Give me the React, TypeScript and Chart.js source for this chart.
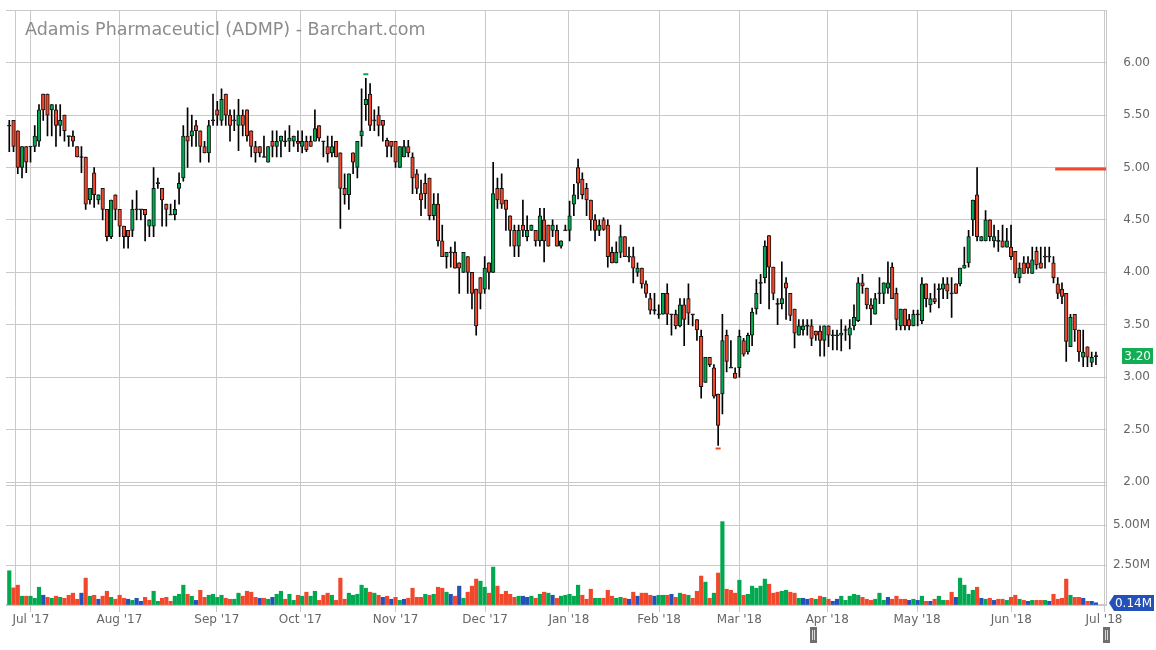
import React, { useEffect, useRef } from 'react';
import { Chart, registerables } from 'chart.js';

Chart.register(...registerables);

const title = 'Adamis Pharmaceuticl (ADMP) - Barchart.com';

const opens = [
  5.40,5.45,5.35,5.00,5.20,5.20,5.20,5.25,5.70,5.70,
  5.55,5.55,5.40,5.50,5.30,5.30,5.20,5.10,5.10,4.69,
  4.95,4.69,4.80,4.60,4.34,4.74,4.60,4.44,4.40,4.40,
  4.60,4.60,4.60,4.44,4.44,4.85,4.80,4.65,4.55,4.55,
  4.80,4.90,5.30,5.30,5.40,5.35,5.20,5.14,5.45,5.55,
  5.45,5.70,5.50,5.45,5.40,5.50,5.55,5.35,5.20,5.20,
  5.10,5.05,5.25,5.20,5.25,5.25,5.25,5.25,5.25,5.20,
  5.25,5.25,5.25,5.40,5.25,5.20,5.14,5.25,5.14,4.80,
  4.74,5.14,5.00,5.30,5.60,5.70,5.45,5.50,5.45,5.26,
  5.25,5.25,5.00,5.10,5.20,5.10,4.94,4.75,4.85,4.90,
  4.54,4.65,4.30,4.15,4.19,4.19,4.09,4.00,4.15,4.00,
  3.84,3.95,3.84,4.09,4.00,4.80,4.80,4.69,4.54,4.40,
  4.25,4.45,4.34,4.40,4.40,4.30,4.50,4.45,4.40,4.40,
  4.25,4.40,4.40,4.65,5.00,4.89,4.80,4.69,4.50,4.40,
  4.50,4.45,4.19,4.09,4.19,4.34,4.15,4.15,4.00,4.04,
  3.89,3.75,3.64,3.60,3.60,3.80,3.60,3.60,3.49,3.69,
  3.75,3.60,3.55,3.39,2.95,3.19,3.09,2.84,2.84,3.40,
  3.09,3.04,3.09,3.35,3.24,3.40,3.65,3.90,3.95,4.35,
  4.05,3.70,3.70,3.90,3.80,3.65,3.40,3.45,3.49,3.49,
  3.44,3.44,3.35,3.49,3.40,3.40,3.40,3.45,3.40,3.49,
  3.54,3.90,3.85,3.69,3.60,3.80,3.80,3.85,4.05,3.80,
  3.49,3.65,3.55,3.49,3.60,3.54,3.89,3.69,3.75,3.84,
  3.84,3.89,3.80,3.89,3.89,4.04,4.09,4.50,4.74,4.30,
  4.30,4.50,4.30,4.30,4.30,4.24,4.24,4.20,3.95,4.09,
  4.09,3.99,4.20,4.09,4.15,4.15,4.09,3.89,3.84,3.80,
  3.29,3.60,3.45,3.19,3.29,3.14,3.20
];

const highs = [
  5.45,5.45,5.35,5.20,5.20,5.20,5.40,5.60,5.70,5.70,
  5.60,5.60,5.60,5.50,5.30,5.35,5.20,5.20,5.10,4.80,
  5.00,4.74,4.80,4.60,4.69,4.74,4.60,4.44,4.40,4.69,
  4.78,4.60,4.60,4.50,5.00,4.90,4.80,4.65,4.65,4.69,
  4.95,5.40,5.57,5.50,5.45,5.35,5.25,5.45,5.70,5.63,
  5.75,5.70,5.55,5.55,5.65,5.55,5.55,5.35,5.25,5.20,
  5.30,5.20,5.35,5.35,5.30,5.35,5.40,5.30,5.35,5.35,
  5.30,5.30,5.55,5.40,5.25,5.30,5.30,5.25,5.14,4.94,
  4.94,5.14,5.25,5.75,5.85,5.80,5.55,5.58,5.45,5.28,
  5.25,5.25,5.20,5.26,5.26,5.14,4.98,4.88,4.94,4.90,
  4.75,4.75,4.45,4.19,4.24,4.29,4.09,4.19,4.15,4.00,
  3.84,3.95,4.15,4.09,5.05,4.90,4.94,4.69,4.54,4.45,
  4.45,4.69,4.54,4.45,4.40,4.61,4.61,4.45,4.50,4.45,
  4.30,4.45,4.68,4.84,5.08,4.95,4.85,4.69,4.55,4.50,
  4.52,4.50,4.24,4.29,4.45,4.34,4.24,4.24,4.09,4.04,
  3.92,3.80,3.80,3.69,3.80,3.89,3.60,3.64,3.75,3.75,
  3.89,3.60,3.55,3.45,3.19,3.19,3.12,2.84,3.60,3.45,
  3.35,3.09,3.45,3.37,3.42,3.66,3.93,3.98,4.30,4.35,
  4.05,3.75,4.10,3.95,3.80,3.65,3.55,3.55,3.55,3.55,
  3.44,3.49,3.49,3.49,3.45,3.45,3.55,3.49,3.55,3.69,
  3.95,3.98,3.85,3.75,3.80,3.95,3.90,4.10,4.09,3.85,
  3.65,3.65,3.60,3.64,3.64,3.95,3.89,3.80,3.89,3.89,
  3.95,3.95,3.95,3.89,4.04,4.24,4.40,4.69,5.00,4.34,
  4.59,4.50,4.45,4.40,4.45,4.42,4.45,4.20,4.09,4.15,
  4.15,4.24,4.24,4.24,4.24,4.24,4.15,3.95,3.90,3.80,
  3.60,3.60,3.45,3.45,3.29,3.24,3.24
];

const lows = [
  5.15,5.15,4.94,4.90,4.95,5.05,5.15,5.20,5.45,5.30,
  5.30,5.20,5.30,5.25,5.20,5.20,5.10,4.95,4.60,4.65,
  4.62,4.65,4.50,4.30,4.32,4.50,4.34,4.23,4.23,4.34,
  4.50,4.50,4.30,4.34,4.34,4.80,4.44,4.44,4.55,4.50,
  4.65,4.87,5.00,5.20,5.20,5.05,5.14,5.05,5.40,5.40,
  5.40,5.40,5.25,5.35,5.16,5.30,5.25,5.10,5.05,5.10,
  5.10,5.05,5.10,5.10,5.10,5.20,5.15,5.20,5.15,5.14,
  5.15,5.20,5.25,5.25,5.10,5.05,5.10,5.10,4.42,4.65,
  4.60,4.94,4.90,5.20,5.45,5.35,5.35,5.30,5.25,5.10,
  5.10,5.00,5.00,5.10,5.10,4.75,4.75,4.54,4.61,4.50,
  4.50,4.25,4.15,4.04,4.05,4.04,3.80,4.00,3.80,3.65,
  3.40,3.65,3.80,3.84,4.00,4.61,4.61,4.40,4.25,4.15,
  4.15,4.34,4.30,4.40,4.25,4.25,4.10,4.25,4.34,4.25,
  4.23,4.40,4.30,4.54,4.70,4.70,4.54,4.40,4.30,4.35,
  4.40,4.05,4.09,4.09,4.14,4.15,4.10,3.90,3.96,3.85,
  3.76,3.60,3.60,3.56,3.60,3.50,3.40,3.46,3.48,3.30,
  3.50,3.49,3.35,2.80,2.95,3.10,2.80,2.35,2.65,3.05,
  3.09,2.99,3.00,3.20,3.22,3.30,3.60,3.70,3.90,3.65,
  3.74,3.50,3.65,3.55,3.54,3.28,3.40,3.40,3.40,3.30,
  3.35,3.20,3.20,3.29,3.26,3.26,3.25,3.35,3.27,3.45,
  3.53,3.80,3.65,3.50,3.60,3.70,3.70,3.80,3.75,3.45,
  3.45,3.45,3.45,3.49,3.49,3.51,3.67,3.62,3.70,3.66,
  3.75,3.75,3.57,3.80,3.87,4.04,4.05,4.35,4.30,4.30,
  4.30,4.30,4.24,4.20,4.24,4.24,4.12,3.95,3.90,3.99,
  3.99,3.99,4.03,4.04,4.04,4.10,3.90,3.75,3.70,3.15,
  3.29,3.34,3.15,3.10,3.10,3.10,3.12
];

const closes = [
  5.40,5.20,5.00,5.20,5.05,5.20,5.30,5.55,5.55,5.50,
  5.60,5.40,5.45,5.35,5.30,5.25,5.10,5.10,4.65,4.80,
  4.74,4.74,4.60,4.34,4.69,4.60,4.44,4.34,4.34,4.60,
  4.60,4.60,4.55,4.50,4.80,4.85,4.69,4.60,4.55,4.60,
  4.85,5.30,5.25,5.35,5.35,5.20,5.14,5.40,5.45,5.50,
  5.65,5.50,5.40,5.45,5.50,5.40,5.30,5.20,5.14,5.14,
  5.10,5.20,5.20,5.25,5.30,5.25,5.28,5.30,5.23,5.25,
  5.17,5.20,5.37,5.28,5.25,5.13,5.20,5.10,4.80,4.74,
  4.94,5.05,5.25,5.35,5.65,5.40,5.45,5.40,5.40,5.20,
  5.20,5.05,5.20,5.20,5.14,4.90,4.80,4.69,4.75,4.54,
  4.65,4.30,4.15,4.19,4.19,4.04,4.04,4.19,4.00,3.80,
  3.49,3.80,4.04,4.00,4.75,4.69,4.65,4.60,4.40,4.25,
  4.40,4.40,4.40,4.45,4.30,4.54,4.30,4.25,4.45,4.25,
  4.30,4.40,4.54,4.74,4.85,4.74,4.69,4.50,4.40,4.45,
  4.41,4.15,4.09,4.19,4.34,4.15,4.15,4.04,4.04,3.89,
  3.80,3.64,3.64,3.60,3.80,3.60,3.60,3.49,3.69,3.55,
  3.61,3.60,3.45,2.91,3.19,3.12,2.82,2.54,3.35,3.15,
  3.09,2.99,3.39,3.22,3.40,3.62,3.80,3.90,4.25,4.05,
  3.80,3.70,3.75,3.85,3.59,3.42,3.49,3.49,3.49,3.37,
  3.40,3.35,3.49,3.40,3.40,3.40,3.42,3.45,3.47,3.57,
  3.90,3.87,3.69,3.65,3.75,3.80,3.90,3.90,3.75,3.55,
  3.65,3.49,3.49,3.60,3.60,3.89,3.75,3.75,3.72,3.84,
  3.89,3.82,3.80,3.80,4.04,4.07,4.34,4.69,4.34,4.34,
  4.50,4.34,4.34,4.30,4.24,4.30,4.15,3.99,4.04,3.99,
  4.04,4.12,4.07,4.04,4.15,4.15,3.95,3.80,3.77,3.34,
  3.57,3.45,3.24,3.24,3.19,3.19,3.20
];

// volume in millions of shares
const volumes = [
  2.14,1.07,1.24,0.55,0.55,0.55,0.42,1.11,0.61,0.48,
  0.42,0.55,0.48,0.42,0.61,0.74,0.36,0.74,1.68,0.55,
  0.61,0.36,0.55,0.86,0.48,0.36,0.61,0.42,0.36,0.29,
  0.42,0.23,0.48,0.29,0.86,0.23,0.42,0.48,0.23,0.55,
  0.67,1.24,0.67,0.55,0.29,0.92,0.48,0.61,0.67,0.48,
  0.61,0.42,0.36,0.36,0.74,0.55,0.86,0.80,0.48,0.42,
  0.42,0.36,0.48,0.67,0.86,0.36,0.67,0.29,0.61,0.55,
  0.80,0.55,0.86,0.29,0.61,0.74,0.61,0.29,1.68,0.36,
  0.74,0.61,0.67,1.24,1.05,0.80,0.74,0.61,0.48,0.55,
  0.36,0.48,0.29,0.36,0.42,1.05,0.48,0.48,0.67,0.61,
  0.67,1.11,1.05,0.80,0.67,0.55,1.18,0.42,0.80,1.18,
  1.62,1.49,1.11,0.74,2.37,1.18,0.67,0.86,0.67,0.48,
  0.55,0.55,0.48,0.55,0.42,0.67,0.80,0.74,0.61,0.42,
  0.55,0.61,0.67,0.55,1.24,0.61,0.36,0.99,0.42,0.42,
  0.42,0.92,0.55,0.42,0.48,0.42,0.36,0.80,0.55,0.74,
  0.74,0.61,0.55,0.61,0.61,0.61,0.67,0.48,0.74,0.67,
  0.61,0.42,0.86,1.81,1.43,0.42,0.74,2.00,5.21,0.99,
  0.92,0.74,1.55,0.61,0.67,1.18,1.05,1.18,1.62,1.30,
  0.74,0.80,0.86,0.92,0.80,0.74,0.42,0.42,0.36,0.42,
  0.36,0.55,0.48,0.36,0.23,0.36,0.55,0.29,0.55,0.67,
  0.61,0.48,0.36,0.29,0.36,0.74,0.29,0.48,0.36,0.55,
  0.36,0.36,0.29,0.36,0.29,0.55,0.23,0.23,0.36,0.55,
  0.29,0.29,0.80,0.48,1.68,1.24,0.67,0.92,1.11,0.42,
  0.36,0.42,0.29,0.36,0.36,0.29,0.48,0.61,0.36,0.29,
  0.23,0.29,0.29,0.29,0.29,0.23,0.67,0.36,0.42,1.62,
  0.61,0.48,0.48,0.42,0.23,0.23,0.14
];

// u = close above previous close, d = below, n = unchanged
const volumeDirs = [
  'udduduuund', 'ududdddndu', 'dnddudddnu', 'nndduudddu', 'uudundduuu',
  'udduuddddn', 'dunuuduudu', 'duuddduddd', 'uuuuududnd', 'ndunddddud',
  'uddundnudd', 'duududdddd', 'unnududund', 'uuuuuddduu', 'ddduudndnd',
  'ddnuudndud', 'udddududud', 'dduduuuuud', 'dduuddunnd', 'ududnnuuuu',
  'uddduuundd', 'ddnunudndu', 'uddnuuuudn', 'udndduddud', 'nuddundddd',
  'uddndnn'
].join('').split('');

const monthLabels = ["Jul '17", "Aug '17", "Sep '17", "Oct '17", "Nov '17", "Dec '17", "Jan '18", "Feb '18", "Mar '18", "Apr '18", "May '18", "Jun '18", "Jul '18"];
const monthPositions = [5.08, 25.94, 48.9, 68.58, 91.0, 112.09, 131.84, 153.09, 171.98, 192.69, 213.85, 236.04, 257.9];
const panelEdge = 1.41;

const lastPrice = 3.20;
const lastVolume = 0.14;
const targetPrice = 4.985;
const targetFrom = 246.4;
const extremeIdx = [84, 167];
const extremeVals = [5.89, 2.32];

const X_MIN = -0.773;
const X_MAX = 258.37;

const GREEN = '#00a84f';
const RED = '#f1482b';
const BLUE = '#2451b8';
const GRID = '#c9c9c9';
const LABEL = '#666666';
const FONT = "'DejaVu Sans', sans-serif";

const overlay = {
  id: 'overlay',
  afterDraw(chart: any) {
    const { ctx, scales } = chart;
    ctx.save();
    ctx.font = `17.5px ${FONT}`;
    ctx.fillStyle = '#8c8c8c';
    ctx.textAlign = 'left';
    ctx.textBaseline = 'alphabetic';
    ctx.fillText(title, 25, 34.5);

    ctx.font = `12px ${FONT}`;
    const py = Math.round(scales.y.getPixelForValue(lastPrice));
    ctx.fillStyle = '#12ad55';
    ctx.fillRect(1122, py - 8, 31, 16);
    ctx.fillStyle = '#ffffff';
    ctx.textAlign = 'right';
    ctx.textBaseline = 'middle';
    ctx.fillText(lastPrice.toFixed(2), 1151, py + 0.5);

    const vy = Math.round(scales.yVol.getPixelForValue(lastVolume));
    ctx.fillStyle = BLUE;
    ctx.beginPath();
    ctx.moveTo(1109, vy);
    ctx.lineTo(1114, vy - 8);
    ctx.lineTo(1154, vy - 8);
    ctx.lineTo(1154, vy + 8);
    ctx.lineTo(1114, vy + 8);
    ctx.closePath();
    ctx.fill();
    ctx.fillStyle = '#ffffff';
    ctx.fillText(lastVolume.toFixed(2) + 'M', 1152, vy + 0.5);

    for (const cx of [813.5, 1106.5]) {
      ctx.fillStyle = '#6f6f6f';
      ctx.fillRect(cx - 3.5, 627, 7, 16);
      ctx.fillStyle = '#d8d8d8';
      ctx.fillRect(cx - 1.5, 630, 1, 10);
      ctx.fillRect(cx + 0.5, 630, 1, 10);
    }
    ctx.restore();
  },
};

export default function App() {
  const ref = useRef<HTMLCanvasElement>(null);

  useEffect(() => {
    const canvas = ref.current;
    if (!canvas) return;
    const n = closes.length;
    const idx = Array.from({ length: n }, (_, i) => i);

    const bodyData = idx.map((i) => {
      const o = opens[i];
      const c = closes[i];
      const lo = Math.min(o, c);
      const hi = Math.max(o, c);
      if (hi - lo < 0.012) {
        const m = (o + c) / 2;
        return { x: i, y: [m - 0.005, m + 0.005] };
      }
      return { x: i, y: [lo, hi] };
    });
    const bodyColors = idx.map((i) =>
      closes[i] > opens[i] + 0.006 ? GREEN : closes[i] < opens[i] - 0.006 ? RED : '#333333'
    );
    const wickData = idx.map((i) => ({ x: i, y: [lows[i], highs[i]] }));
    const volData = idx.map((i) => ({ x: i, y: volumes[i] }));
    const volColors = idx.map((i) => {
      const d = volumeDirs[i];
      return d === 'u' ? GREEN : d === 'd' ? RED : BLUE;
    });

    const chart = new Chart(canvas, {
      type: 'bar',
      data: {
        datasets: [
          {
            type: 'bar',
            label: 'body',
            data: bodyData as any,
            yAxisID: 'y',
            backgroundColor: bodyColors,
            borderColor: '#111111',
            borderWidth: 1,
            borderSkipped: false,
            grouped: false,
            barThickness: 3.6,
            maxBarThickness: 3.6,
            order: 0,
          },
          {
            type: 'bar',
            label: 'wick',
            data: wickData as any,
            yAxisID: 'y',
            backgroundColor: '#000000',
            borderWidth: 0,
            grouped: false,
            barThickness: 1,
            maxBarThickness: 1,
            order: 1,
          },
          {
            type: 'bar',
            label: 'volume',
            data: volData as any,
            yAxisID: 'yVol',
            backgroundColor: volColors,
            borderWidth: 0,
            grouped: false,
            barThickness: 3.5,
            maxBarThickness: 3.5,
            order: 2,
          },
          {
            type: 'line',
            label: 'target',
            data: [
              { x: targetFrom, y: targetPrice },
              { x: X_MAX, y: targetPrice },
            ],
            yAxisID: 'y',
            borderColor: '#ef4a2c',
            borderWidth: 3,
            pointRadius: 0,
            order: 0,
          } as any,
          {
            type: 'line',
            label: 'extremes',
            data: extremeIdx.map((x, k) => ({ x, y: extremeVals[k] })),
            yAxisID: 'y',
            showLine: false,
            pointStyle: 'line',
            pointRadius: 2.5,
            pointBorderWidth: 2,
            pointBorderColor: [GREEN, RED],
            borderColor: [GREEN, RED],
            order: 0,
          } as any,
        ],
      },
      options: {
        animation: false,
        responsive: false,
        devicePixelRatio: 1,
        layout: { padding: { top: 10, right: 6, bottom: 20, left: 0 } },
        plugins: { legend: { display: false }, tooltip: { enabled: false } },
        scales: {
          x: {
            type: 'linear',
            min: X_MIN,
            max: X_MAX,
            offset: false,
            afterBuildTicks: (s: any) => {
              s.ticks = [panelEdge, ...monthPositions].map((v) => ({ value: v }));
            },
            afterFit: (s: any) => {
              s.height = 25;
            },
            ticks: {
              autoSkip: false,
              maxRotation: 0,
              padding: 1,
              color: LABEL,
              font: { family: FONT, size: 12 },
              callback: (_v: any, i: number) => (i === 0 ? '' : monthLabels[i - 1]),
            },
            grid: {
              offset: false,
              color: GRID,
              tickLength: 7,
              tickColor: (c: any) => (c.index === 0 ? 'rgba(0,0,0,0)' : GRID),
            },
            border: { display: true, color: GRID },
          },
          y: {
            type: 'linear',
            position: 'right',
            stack: 'panes',
            stackWeight: 472,
            min: 2,
            max: 6.5,
            afterFit: (s: any) => {
              s.width = 44;
            },
            ticks: {
              stepSize: 0.5,
              autoSkip: false,
              crossAlign: 'far',
              color: LABEL,
              font: { family: FONT, size: 12 },
              callback: (v: any) => (v > 6.49 ? '' : Number(v).toFixed(2)),
            },
            grid: { color: GRID, drawTicks: false },
            border: { display: true, color: GRID },
          },
          yVol: {
            type: 'linear',
            position: 'right',
            stack: 'panes',
            stackWeight: 123,
            min: 0,
            max: 7.6875,
            afterFit: (s: any) => {
              s.width = 44;
            },
            ticks: {
              stepSize: 2.5,
              includeBounds: false,
              autoSkip: false,
              crossAlign: 'far',
              color: LABEL,
              font: { family: FONT, size: 12 },
              callback: (v: any) => (v === 2.5 || v === 5 ? Number(v).toFixed(2) + 'M' : ''),
            },
            grid: { color: GRID, drawTicks: false },
            border: { display: true, color: GRID },
          },
        } as any,
      },
      plugins: [overlay],
    });

    return () => chart.destroy();
  }, []);

  return (
    <div style={{ position: 'absolute', left: 0, top: 0, width: 1156, height: 650, background: '#ffffff' }}>
      <canvas ref={ref} width={1156} height={650} style={{ width: 1156, height: 650, display: 'block' }} />
    </div>
  );
}
